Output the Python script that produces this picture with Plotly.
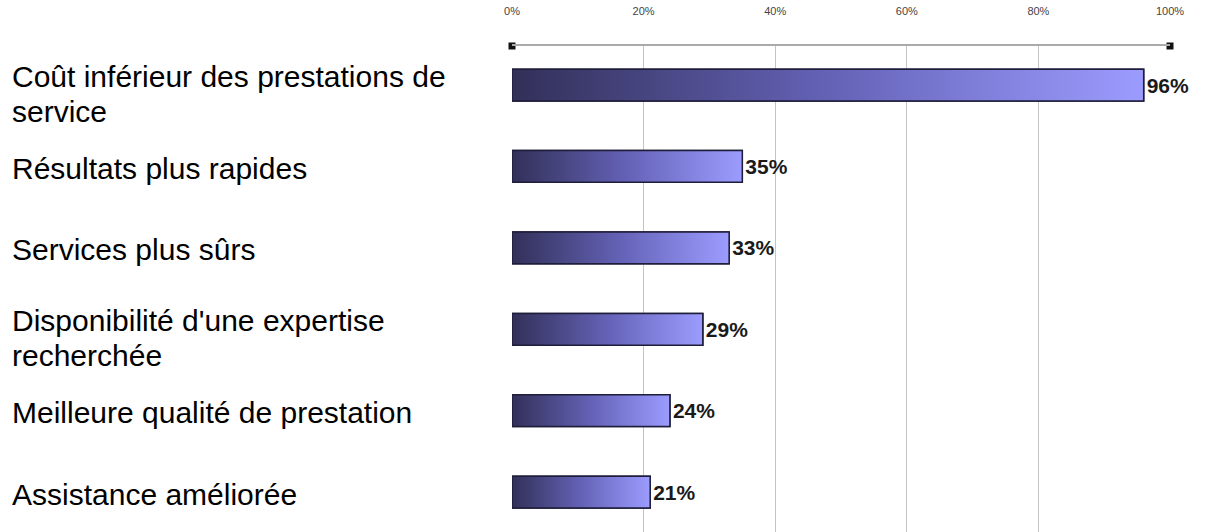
import plotly.graph_objects as go

categories = [
    "Coût inférieur des prestations de<br>service",
    "Résultats plus rapides",
    "Services plus sûrs",
    "Disponibilité d'une expertise<br>recherchée",
    "Meilleure qualité de prestation",
    "Assistance améliorée",
]
values = [96, 35, 33, 29, 24, 21]
tick_vals = [0, 20, 40, 60, 80, 100]
tick_labels = ["0%", "20%", "40%", "60%", "80%", "100%"]

HALF = 0.195
Y_TOP = -0.48
Y_BOT = 5.49
LABEL_FONT = dict(family="Liberation Sans", size=30, color="#000000")

fig = go.Figure()
idx = list(range(len(categories)))

# base bars (carry data + value labels)
fig.add_trace(go.Bar(
    x=values, y=idx, orientation="h", width=2 * HALF,
    marker=dict(color="#6a68b8", line=dict(color="#1e1d3a", width=1.5)),
    text=[f"<b>{v}%</b>" for v in values], textposition="outside",
    textfont=dict(family="Liberation Sans", size=21, color="#1a1a1a"),
    cliponaxis=False, hoverinfo="skip", showlegend=False,
))

# gradient overlay for each bar
for i, v in zip(idx, values):
    fig.add_trace(go.Scatter(
        x=[0, v, v, 0, 0], y=[i - HALF, i - HALF, i + HALF, i + HALF, i - HALF],
        mode="lines", fill="toself",
        line=dict(color="#1e1d3a", width=1.5),
        fillgradient=dict(type="horizontal",
                          colorscale=[[0, "#323058"], [0.5, "#6462b6"], [1, "#9c9cff"]]),
        hoverinfo="skip", showlegend=False,
    ))

# axis end squares
fig.add_trace(go.Scatter(
    x=[tick_vals[0], tick_vals[-1]], y=[Y_TOP, Y_TOP], mode="markers",
    marker=dict(symbol="square", size=7, color="#111111"),
    cliponaxis=False, hoverinfo="skip", showlegend=False,
))

annotations = []
for i, c in enumerate(categories):
    lines = c.split("<br>")
    if len(lines) == 1:
        annotations.append(dict(text=lines[0], xref="paper", yref="y", x=-0.763, y=i,
                                xanchor="left", yanchor="middle", showarrow=False, yshift=-2,
                                font=LABEL_FONT))
    else:
        for k, ln in enumerate(lines):
            annotations.append(dict(text=ln, xref="paper", yref="y", x=-0.763, y=i,
                                    xanchor="left", yanchor="middle", showarrow=False,
                                    yshift=9 - 35 * k, font=LABEL_FONT))

fig.update_layout(
    width=1207, height=532,
    margin=dict(l=512, r=37, t=46, b=0),
    paper_bgcolor="white", plot_bgcolor="white",
    barmode="overlay",
    annotations=annotations,
    xaxis=dict(side="top", range=[0, 100], tickvals=tick_vals, ticktext=tick_labels,
               showgrid=True, gridcolor="#c4c4c4", gridwidth=1, zeroline=False,
               showline=True, linecolor="#aaaaaa", linewidth=1.5, ticks="",
               ticklabelstandoff=25,
               tickfont=dict(family="Liberation Sans Narrow, Liberation Sans", size=11, color="#444444")),
    yaxis=dict(range=[Y_BOT, Y_TOP], showgrid=False, zeroline=False, showline=False,
               showticklabels=False, ticks=""),
)

fig.write_html("out.html")
